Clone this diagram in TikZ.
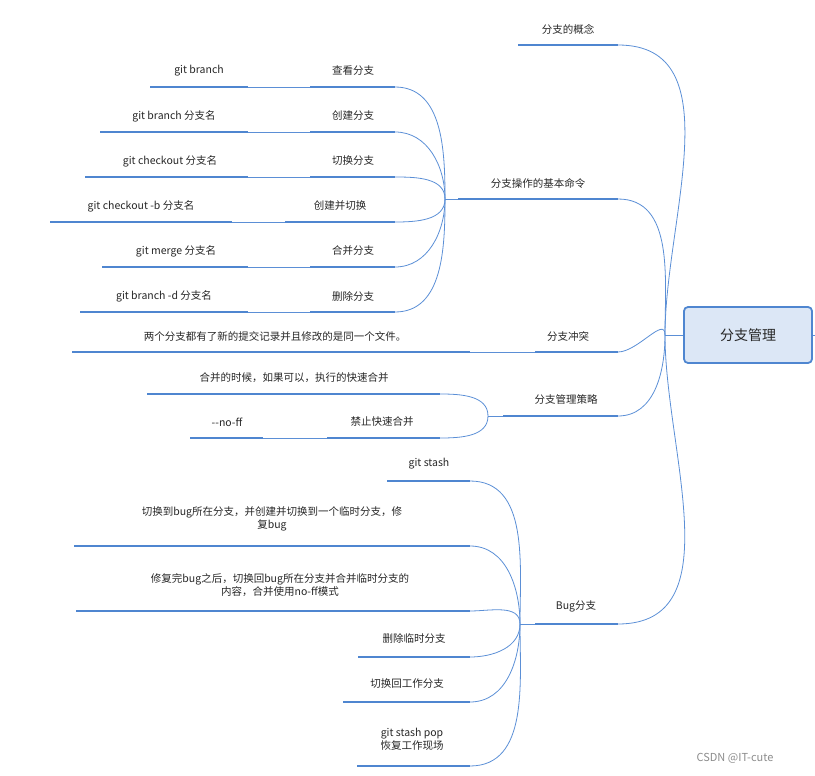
\documentclass[tikz,border=0pt]{standalone}
\usepackage{fontspec}
\setmainfont{Noto Sans CJK SC}
\begin{document}
\begin{tikzpicture}[x=1pt,y=-1pt,
  lbl/.style={font=\fontsize{10.5}{13}\selectfont,text=black!85,inner sep=0pt,align=center},
  ul/.style={draw=ulc,line width=2.6pt},
  cn/.style={draw=cnc,line width=0.8pt}]
\definecolor{ulc}{HTML}{4F86D0}
\definecolor{cnc}{HTML}{5B8FD6}
\useasboundingbox (0,0) rectangle (815,776);
% root
\node[draw=ulc,line width=1.8pt,fill=ulc!20,rounded corners=4pt,minimum width=128pt,minimum height=56pt,font=\fontsize{14}{16}\selectfont,text=black!85] (root) at (748,335) {分支管理};
\coordinate (rj) at (665,335);
\draw[cn] (root.east) -- (815,335);
\draw[cn] (root.west) -- (rj);
% helper macro
\newcommand{\leaf}[6]{% name, textx, texty, x1, x2, y
  \node[lbl] (#1t) at (#2,#3) {\csname txt#1\endcsname};
  \draw[ul] (#4,#6) coordinate (#1L) -- (#5,#6) coordinate (#1R);}
% level 1
\node[lbl] (a) at (568,29) {分支的概念};
\draw[ul] (518,45) coordinate (aL) -- (618,45) coordinate (aR);
\node[lbl] (b) at (538,183) {分支操作的基本命令};
\draw[ul] (458,199) coordinate (bL) -- (618,199) coordinate (bR);
\node[lbl] (c) at (568,336) {分支冲突};
\draw[ul] (535,352) coordinate (cL) -- (618,352) coordinate (cR);
\node[lbl] (d) at (566,400) {分支管理策略};
\draw[ul] (503,416) coordinate (dL) -- (618,416) coordinate (dR);
\node[lbl] (e) at (576,606) {Bug分支};
\draw[ul] (535,624) coordinate (eL) -- (618,624) coordinate (eR);
\foreach \n/\o in {a/90,b/90,c/90,d/-90,e/-90}
  \draw[cn] (rj) to[out=\o,in=0] (\n R);
% level 2 under b
\coordinate (bj) at (445,199);
\draw[cn] (bj) -- (bL);
\foreach \n/\tx/\ty/\xa/\xb/\yy/\cx/\cxa/\cxb/\ct in {
  b1/353/71/310/395/87/199/150/248/{git branch},
  b2/353/116/310/395/132/174/100/248/{git branch 分支名},
  b3/353/161/310/395/177/170/85/248/{git checkout 分支名},
  b4/340/206/285/395/222/141/50/232/{git checkout -b 分支名},
  b5/353/251/310/395/267/176/102/248/{git merge 分支名},
  b6/353/296/310/395/312/164/80/248/{git branch -d 分支名}}{
  \node[lbl] (\n c) at (\cx,\ty) {\ct};
  \draw[ul] (\cxa,\yy) coordinate (\n cL) -- (\cxb,\yy) coordinate (\n cR);
}
\node[lbl] (b1) at (353,71) {查看分支};
\node[lbl] (b2) at (353,116) {创建分支};
\node[lbl] (b3) at (353,161) {切换分支};
\node[lbl] (b4) at (340,206) {创建并切换};
\node[lbl] (b5) at (353,251) {合并分支};
\node[lbl] (b6) at (353,296) {删除分支};
\foreach \n/\xa/\yy/\o in {b1/310/87/90,b2/310/132/90,b3/310/177/90,b4/285/222/-90,b5/310/267/-90,b6/310/312/-90}{
  \draw[ul] (\xa,\yy) coordinate (\n L) -- (395,\yy) coordinate (\n R);
  \draw[cn] (bj) to[out=\o,in=0] (\n R);
  \draw[cn] (\n cR) -- (\n L);
}
% c child
\node[lbl] (c1) at (275,336) {两个分支都有了新的提交记录并且修改的是同一个文件。};
\draw[ul] (72,352) coordinate (c1L) -- (470,352) coordinate (c1R);
\draw[cn] (c1R) -- (cL);
% d children
\coordinate (dj) at (488,416);
\draw[cn] (dj) -- (dL);
\node[lbl] (d1) at (294,378) {合并的时候，如果可以，执行的快速合并};
\draw[ul] (147,394) coordinate (d1L) -- (440,394) coordinate (d1R);
\node[lbl] (d2) at (382,422) {禁止快速合并};
\draw[ul] (327,438) coordinate (d2L) -- (440,438) coordinate (d2R);
\node[lbl] (d2c) at (227,422) {-{}-no-ff};
\draw[ul] (190,438) coordinate (d2cL) -- (263,438) coordinate (d2cR);
\draw[cn] (d2cR) -- (d2L);
\draw[cn] (dj) to[out=90,in=0] (d1R);
\draw[cn] (dj) to[out=-90,in=0] (d2R);
% e children
\coordinate (ej) at (520,624);
\draw[cn] (ej) -- (eL);
\node[lbl] (e1) at (429,464) {git stash};
\draw[ul] (387,481) coordinate (e1L) -- (470,481) coordinate (e1R);
\node[lbl] (e2) at (272,519) {切换到bug所在分支，并创建并切换到一个临时分支，修\\复bug};
\draw[ul] (74,546) coordinate (e2L) -- (470,546) coordinate (e2R);
\node[lbl] (e3) at (280,585) {修复完bug之后，切换回bug所在分支并合并临时分支的\\内容，合并使用no-ff模式};
\draw[ul] (76,611) coordinate (e3L) -- (470,611) coordinate (e3R);
\node[lbl] (e4) at (414,638) {删除临时分支};
\draw[ul] (358,657) coordinate (e4L) -- (470,657) coordinate (e4R);
\node[lbl] (e5) at (407,684) {切换回工作分支};
\draw[ul] (343,702) coordinate (e5L) -- (470,702) coordinate (e5R);
\node[lbl] (e6) at (412,739) {git stash pop\\恢复工作现场};
\draw[ul] (357,766) coordinate (e6L) -- (470,766) coordinate (e6R);
\foreach \n/\o in {e1/90,e2/90,e3/90,e4/-90,e5/-90,e6/-90}
  \draw[cn] (ej) to[out=\o,in=0] (\n R);
% watermark
\node[font=\fontsize{11}{13}\selectfont,text=black!45,inner sep=0pt] (wm) at (735,758) {CSDN @IT-cute};
\end{tikzpicture}
\end{document}
